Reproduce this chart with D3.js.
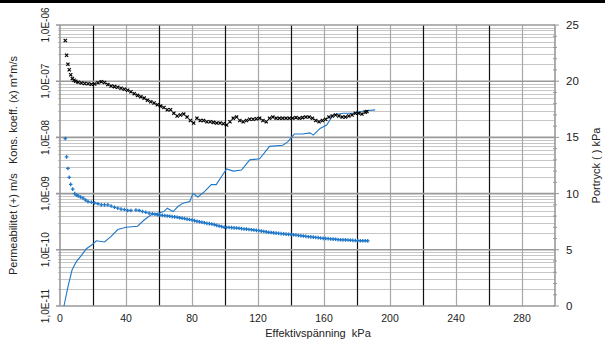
<!DOCTYPE html>
<html>
<head>
 <meta charset="UTF-8">
 <title>Permeabilitet / Kons. koeff. / Portryck</title>
 <script src="https://d3js.org/d3.v7.min.js"></script>
 <style>
  body { margin: 0; background: #fff; }
  text { font-family: "Liberation Sans", Arial, sans-serif; fill: #222; }
 </style>
</head>
<body>
	<script type="text/javascript">
		// Kons. koeff. (x) m*m/s
		var konsKpa = [3.2, 4.0, 4.8, 5.6, 6.5, 7.5, 8.5, 9.5, 11, 13, 15, 17, 19, 21, 23, 25, 27, 29, 31, 33, 35, 37, 39, 41, 43, 45, 47, 49, 51, 53, 55, 57, 59, 61, 63, 65, 67, 69, 71, 73, 75, 77, 79, 81, 83, 85, 87, 89, 91, 93, 95, 97, 99, 101, 103, 105, 107, 109, 111, 113, 115, 117, 119, 121, 123, 125, 127, 129, 131, 133, 135, 137, 139, 141, 143, 145, 147, 149, 151, 153, 155, 157, 159, 161, 163, 165, 167, 169, 171, 173, 175, 177, 179, 181, 183, 185, 186];
		var konsVal = [5.3e-7, 2.9e-7, 2.0e-7, 1.6e-7, 1.3e-7, 1.12e-7, 1.04e-7, 1.0e-7, 9.6e-8, 9.3e-8, 9.1e-8, 9.0e-8, 8.8e-8, 8.9e-8, 9.4e-8, 9.8e-8, 9.5e-8, 8.7e-8, 8.2e-8, 8.0e-8, 7.8e-8, 7.5e-8, 7.2e-8, 6.9e-8, 6.5e-8, 6.0e-8, 5.6e-8, 5.3e-8, 5.0e-8, 4.6e-8, 4.3e-8, 4.1e-8, 3.8e-8, 3.6e-8, 3.4e-8, 3.1e-8, 3.1e-8, 2.7e-8, 2.4e-8, 2.5e-8, 2.6e-8, 2.3e-8, 2.0e-8, 1.8e-8, 2.2e-8, 2.0e-8, 2.0e-8, 1.9e-8, 1.9e-8, 1.85e-8, 1.8e-8, 1.8e-8, 1.75e-8, 1.66e-8, 1.9e-8, 2.2e-8, 2.3e-8, 2.0e-8, 1.9e-8, 2.0e-8, 2.1e-8, 2.1e-8, 2.15e-8, 2.2e-8, 2.0e-8, 1.9e-8, 2.2e-8, 2.3e-8, 2.2e-8, 2.2e-8, 2.2e-8, 2.2e-8, 2.2e-8, 2.2e-8, 2.25e-8, 2.2e-8, 2.25e-8, 2.3e-8, 2.3e-8, 2.2e-8, 2.0e-8, 1.9e-8, 2.0e-8, 2.1e-8, 2.3e-8, 2.4e-8, 2.5e-8, 2.4e-8, 2.3e-8, 2.3e-8, 2.4e-8, 2.5e-8, 2.7e-8, 2.7e-8, 2.6e-8, 2.8e-8, 2.9e-8];

		// Permeabilitet (+) m/s
		var permKpa = [3.2, 4.0, 4.8, 5.6, 6.5, 7.7, 8.9, 10, 11, 12.5, 14, 15.5, 17, 19, 21, 23, 25, 27, 29, 31, 33, 35, 37, 39, 41, 43, 46, 48, 50, 52, 54,
			56, 57.5, 59, 60.5, 62, 63.5, 65, 66.5, 68, 69.5, 71, 72.5, 74, 75.5, 77, 78.5, 80, 81.5, 83, 84.5, 86, 87.5, 89, 90.5, 92, 93.5, 95, 96.5, 98, 99.5,
			101, 102.5, 104, 105.5, 107, 108.5, 110, 111.5, 113, 114.5, 116, 117.5, 119, 120.5, 122, 123.5, 125, 126.5, 128, 129.5, 131, 132.5, 134, 135.5, 137, 138.5,
			140, 141.5, 143, 144.5, 146, 147.5, 149, 150.5, 152, 153.5, 155, 156.5, 158, 159.5, 161, 162.5, 164, 165.5, 167, 168.5, 170, 171.5, 173, 174.5, 176, 177.5,
			179, 180.5, 182, 183.5, 185, 186.5];
		var permVal = [9.5e-9, 4.5e-9, 2.8e-9, 1.95e-9, 1.46e-9, 1.2e-9, 1.0e-9, 9.4e-10, 9.1e-10, 8.7e-10, 8.3e-10, 7.7e-10, 7.2e-10, 7.0e-10, 6.8e-10, 6.6e-10, 6.3e-10, 6.3e-10, 6.3e-10, 6.0e-10, 5.7e-10, 5.5e-10, 5.3e-10, 5.2e-10, 5.0e-10, 5.0e-10, 5.1e-10, 5.0e-10, 4.8e-10, 4.65e-10, 4.5e-10,
			4.4e-10, 4.3e-10, 4.2e-10, 4.15e-10, 4.1e-10, 4.05e-10, 4.0e-10, 3.95e-10, 3.9e-10, 3.85e-10, 3.8e-10, 3.72e-10, 3.65e-10, 3.6e-10, 3.52e-10, 3.45e-10, 3.4e-10, 3.3e-10, 3.22e-10, 3.15e-10, 3.1e-10, 3.02e-10, 2.95e-10, 2.92e-10, 2.88e-10, 2.8e-10, 2.72e-10, 2.65e-10, 2.58e-10, 2.52e-10,
			2.5e-10, 2.5e-10, 2.48e-10, 2.46e-10, 2.44e-10, 2.42e-10, 2.38e-10, 2.35e-10, 2.33e-10, 2.3e-10, 2.28e-10, 2.25e-10, 2.22e-10, 2.2e-10, 2.15e-10, 2.12e-10, 2.08e-10, 2.05e-10, 2.03e-10, 2.0e-10, 1.98e-10, 1.96e-10, 1.94e-10, 1.92e-10, 1.9e-10, 1.88e-10,
			1.87e-10, 1.85e-10, 1.83e-10, 1.8e-10, 1.78e-10, 1.76e-10, 1.73e-10, 1.71e-10, 1.7e-10, 1.68e-10, 1.66e-10, 1.65e-10, 1.62e-10, 1.6e-10, 1.59e-10, 1.58e-10, 1.56e-10, 1.55e-10, 1.54e-10, 1.52e-10, 1.51e-10, 1.5e-10, 1.5e-10, 1.49e-10, 1.48e-10, 1.47e-10,
			1.46e-10, 1.46e-10, 1.45e-10, 1.45e-10, 1.45e-10, 1.44e-10];

		// Portryck ( ) kPa
		var porKpa = [2.4, 4.8, 7.3, 9.9, 13, 16, 19, 22, 27, 31, 35, 40, 47, 51, 55, 59, 63, 65, 68.5, 71.5, 74.5, 78.6, 80.6, 83.6, 87.7, 91.7, 94.7, 97.8, 101, 105, 110, 115, 121, 127, 135, 138, 142, 147, 151.5, 153.5, 157.6, 161.6, 165.6, 171.7, 177.8, 184, 191];
		var porVal = [0, 1.7, 3.2, 3.95, 4.5, 5.1, 5.4, 5.8, 5.7, 6.2, 6.8, 7.0, 7.1, 7.65, 8.1, 8.25, 8.4, 8.7, 8.4, 8.85, 9.15, 9.3, 10.0, 9.7, 10.2, 10.8, 10.8, 11.5, 12.2, 12.0, 12.1, 13.0, 13.1, 14.2, 14.3, 14.6, 15.3, 15.3, 15.4, 15.2, 15.8, 16.1, 17.0, 17.15, 17.15, 17.35, 17.45];

		var xTicks = [0, 40, 80, 120, 160, 200, 240, 280];
		var yLeftTicks = [1e-11, 1e-10, 1e-9, 1e-8, 1e-7, 1e-6];
		var yLeftLabels = ["1,0E-11", "1,0E-10", "1,0E-09", "1,0E-08", "1,0E-07", "1,0E-06"];
		var yRightTicks = [0, 5, 10, 15, 20, 25];

		var width = 605, height = 342;
		var pLeft = 60, pRight = 555, pTop = 25, pBottom = 306;
		var blue = "#1f77c9";

		var svg = d3.select('body').append('svg')
			.attr('width', width)
			.attr('height', height);

		var x = d3.scaleLinear().domain([0, 300]).range([pLeft, pRight]);
		var yL = d3.scaleLog().domain([1e-11, 1e-6]).range([pBottom, pTop]);
		var yR = d3.scaleLinear().domain([0, 25]).range([pBottom, pTop]);

		// top border
		svg.append('rect').attr('x', 0).attr('y', 0).attr('width', width).attr('height', 3).attr('fill', '#000');

		// log minor grid
		var minor = [];
		for (var e = -11; e < -6; e++) {
			for (var m = 2; m <= 9; m++) {
				minor.push(m * Math.pow(10, e));
			}
		}
		svg.append('g').selectAll('line').data(minor).enter().append('line')
			.attr('x1', pLeft - 2).attr('x2', pRight)
			.attr('y1', function (d) { return Math.round(yL(d)) + 0.5; })
			.attr('y2', function (d) { return Math.round(yL(d)) + 0.5; })
			.attr('stroke', '#c6c6c6').attr('stroke-width', 1);

		// vertical grid every 20
		var vgrid = d3.range(20, 300, 20);
		svg.append('g').selectAll('line').data(vgrid).enter().append('line')
			.attr('x1', function (d) { return Math.round(x(d)) + 0.5; })
			.attr('x2', function (d) { return Math.round(x(d)) + 0.5; })
			.attr('y1', pTop).attr('y2', pBottom)
			.attr('stroke', function (d) { return (d % 40 == 20) ? '#111' : '#a8a8a8'; })
			.attr('stroke-width', 1.2);

		// decade lines
		svg.append('g').selectAll('line').data(yLeftTicks).enter().append('line')
			.attr('x1', pLeft - 4).attr('x2', pRight)
			.attr('y1', function (d) { return yL(d); })
			.attr('y2', function (d) { return yL(d); })
			.attr('stroke', '#999').attr('stroke-width', 1.6);

		// frame axes
		svg.append('line').attr('x1', pLeft).attr('x2', pLeft).attr('y1', pTop).attr('y2', pBottom)
			.attr('stroke', '#999').attr('stroke-width', 1.6);
		svg.append('line').attr('x1', pRight).attr('x2', pRight).attr('y1', pTop).attr('y2', pBottom)
			.attr('stroke', '#999').attr('stroke-width', 1.6);

		// right axis ticks
		var rMinor = d3.range(0, 26, 1);
		svg.append('g').selectAll('line').data(rMinor).enter().append('line')
			.attr('x1', pRight - 2).attr('x2', function (d) { return d % 5 == 0 ? pRight + 4 : pRight + 2; })
			.attr('y1', function (d) { return yR(d); })
			.attr('y2', function (d) { return yR(d); })
			.attr('stroke', '#999').attr('stroke-width', 1);

		// left tick labels
		svg.append('g').selectAll('text').data(yLeftTicks).enter().append('text')
			.attr('transform', function (d) { return 'translate(49,' + yL(d) + ') rotate(-90)'; })
			.attr('text-anchor', 'middle')
			.style('font-size', '10px')
			.text(function (d, i) { return yLeftLabels[i]; });

		// right tick labels
		svg.append('g').selectAll('text').data(yRightTicks).enter().append('text')
			.attr('x', 566).attr('y', function (d) { return yR(d) + 4; })
			.style('font-size', '11.5px')
			.text(function (d) { return d; });

		// bottom tick labels
		svg.append('g').selectAll('text').data(xTicks).enter().append('text')
			.attr('x', function (d) { return x(d); }).attr('y', 322)
			.attr('text-anchor', 'middle')
			.style('font-size', '10.5px')
			.text(function (d) { return d; });

		// titles
		svg.append('text').attr('x', 318).attr('y', 337).attr('text-anchor', 'middle')
			.style('font-size', '11px').attr('xml:space', 'preserve')
			.text('Effektivspänning  kPa');
		svg.append('text').attr('transform', 'translate(17,' + ((pTop + pBottom) / 2) + ') rotate(-90)')
			.attr('text-anchor', 'middle').style('font-size', '11px').attr('xml:space', 'preserve')
			.text('Permeabilitet (+) m/s   Kons. koeff. (x) m*m/s');
		svg.append('text').attr('transform', 'translate(600,' + ((pTop + pBottom) / 2) + ') rotate(-90)')
			.attr('text-anchor', 'middle').style('font-size', '11px').attr('xml:space', 'preserve')
			.text('Portryck ( ) kPa');

		// portryck line
		var line = d3.line()
			.x(function (d, i) { return x(porKpa[i]); })
			.y(function (d, i) { return yR(porVal[i]); });
		svg.append('path').datum(porVal).attr('d', line)
			.attr('fill', 'none').attr('stroke', blue).attr('stroke-width', 1.1);

		// permeabilitet markers (+)
		svg.append('g').selectAll('path').data(permVal).enter().append('path')
			.attr('transform', function (d, i) { return 'translate(' + x(permKpa[i]) + ',' + yL(d) + ')'; })
			.attr('d', 'M-1.8,0H1.8M0,-1.8V1.8')
			.attr('stroke', blue).attr('stroke-width', 1.3);

		// kons. koeff. markers (x)
		svg.append('g').selectAll('path').data(konsVal).enter().append('path')
			.attr('transform', function (d, i) { return 'translate(' + x(konsKpa[i]) + ',' + yL(d) + ')'; })
			.attr('d', 'M-1.6,-1.6L1.6,1.6M-1.6,1.6L1.6,-1.6')
			.attr('stroke', '#000').attr('stroke-width', 1.2);
	</script>
</body>
</html>
